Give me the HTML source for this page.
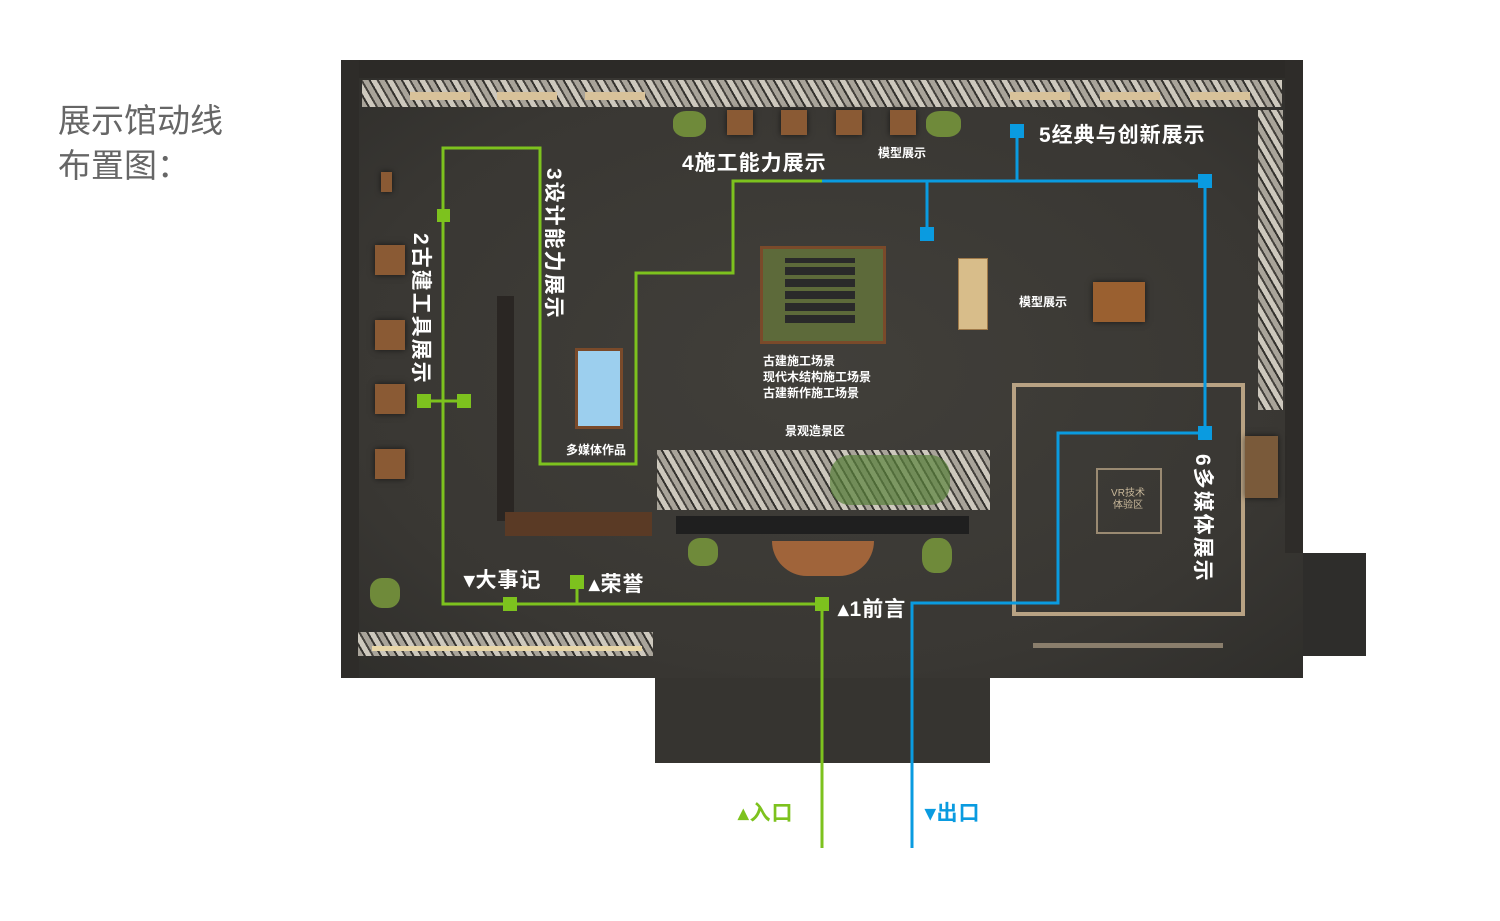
<!DOCTYPE html>
<html><head><meta charset="utf-8"><style>
html,body{margin:0;padding:0;background:#fff;}
body{width:1500px;height:921px;position:relative;overflow:hidden;font-family:"Liberation Sans","Noto Sans CJK SC",sans-serif;}
.a{position:absolute;}
.t{position:absolute;color:#fff;font-weight:bold;white-space:nowrap;}
.big{font-size:21px;letter-spacing:1px;}
.sm{font-size:12px;}
.v{transform-origin:0 0;transform:rotate(90deg);font-size:21px;letter-spacing:2px;}
.wood{position:absolute;background:#8a5a34;box-shadow:0 0 6px rgba(0,0,0,.6);}
.stone{position:absolute;background:repeating-linear-gradient(60deg,#a9a49a 0 5px,#34322e 5px 7px,#cdc8bd 7px 12px,#45423d 12px 14px);}
</style></head><body>
<div class="a" style="left:58px;top:98px;font-size:33px;color:#666;line-height:45px;">展示馆动线<br>布置图：</div>

<!-- floor -->
<div class="a" style="left:341px;top:60px;width:962px;height:618px;background:radial-gradient(ellipse at center,#413f3a 0%,#393733 70%,#2f2e2b 100%);"></div>
<div class="a" style="left:655px;top:678px;width:335px;height:85px;background:#363430;"></div>
<div class="a" style="left:1303px;top:553px;width:63px;height:103px;background:#2e2d2b;"></div>
<div class="a" style="left:341px;top:60px;width:962px;height:18px;background:#2c2a27;"></div>
<div class="a" style="left:341px;top:60px;width:18px;height:618px;background:#2e2c29;"></div>
<div class="a" style="left:1285px;top:60px;width:18px;height:493px;background:#2e2c29;"></div>
<div class="stone" style="left:362px;top:80px;width:920px;height:27px;"></div>
<div class="a" style="left:410px;top:92px;width:60px;height:8px;background:#d8c29a;"></div>
<div class="a" style="left:497px;top:92px;width:60px;height:8px;background:#d8c29a;"></div>
<div class="a" style="left:585px;top:92px;width:60px;height:8px;background:#d8c29a;"></div>
<div class="a" style="left:1010px;top:92px;width:60px;height:8px;background:#d8c29a;"></div>
<div class="a" style="left:1100px;top:92px;width:60px;height:8px;background:#d8c29a;"></div>
<div class="a" style="left:1190px;top:92px;width:60px;height:8px;background:#d8c29a;"></div>
<div class="stone" style="left:1258px;top:110px;width:25px;height:300px;"></div>
<div class="stone" style="left:358px;top:632px;width:295px;height:24px;"></div>
<div class="a" style="left:372px;top:646px;width:270px;height:5px;background:#e8d6a8;"></div>

<!-- wood boxes left -->
<div class="wood" style="left:381px;top:172px;width:11px;height:20px;"></div>
<div class="wood" style="left:375px;top:245px;width:30px;height:30px;"></div>
<div class="wood" style="left:375px;top:320px;width:30px;height:30px;"></div>
<div class="wood" style="left:375px;top:384px;width:30px;height:30px;"></div>
<div class="wood" style="left:375px;top:449px;width:30px;height:30px;"></div>
<div class="a" style="left:370px;top:578px;width:30px;height:30px;background:#6f8a3a;border-radius:40%;"></div>
<!-- vertical rack -->
<div class="a" style="left:497px;top:296px;width:17px;height:225px;background:#2a2623;"></div>
<div class="a" style="left:505px;top:512px;width:147px;height:24px;background:#5a3a25;"></div>
<!-- top showcases -->
<div class="a" style="left:673px;top:111px;width:33px;height:26px;background:#6f8a3a;border-radius:40%;"></div>
<div class="wood" style="left:727px;top:110px;width:26px;height:25px;"></div>
<div class="wood" style="left:781px;top:110px;width:26px;height:25px;"></div>
<div class="wood" style="left:836px;top:110px;width:26px;height:25px;"></div>
<div class="wood" style="left:890px;top:110px;width:26px;height:25px;"></div>
<div class="a" style="left:926px;top:111px;width:35px;height:26px;background:#6f8a3a;border-radius:40%;"></div>
<!-- model green -->
<div class="a" style="left:760px;top:246px;width:120px;height:92px;background:#5d6a3a;border:3px solid #7a4a2a;"></div>
<div class="a" style="left:785px;top:258px;width:70px;height:65px;background:repeating-linear-gradient(0deg,#2a2a2a 0 8px,#5d6a3a 8px 12px);"></div>
<!-- light blue -->
<div class="a" style="left:575px;top:348px;width:42px;height:75px;background:#9ccfee;border:3px solid #7a4a2a;"></div>
<!-- wood bench & model -->
<div class="a" style="left:958px;top:258px;width:28px;height:70px;background:#d8bd8a;border:1px solid #a07a4a;"></div>
<div class="wood" style="left:1093px;top:282px;width:52px;height:40px;background:#9a6030;"></div>
<!-- landscape stones -->
<div class="stone" style="left:657px;top:450px;width:333px;height:60px;"></div>
<div class="a" style="left:830px;top:455px;width:120px;height:50px;background:rgba(90,130,60,.7);border-radius:20px;"></div>
<div class="a" style="left:676px;top:516px;width:293px;height:18px;background:#1f1f1f;"></div>
<div class="a" style="left:772px;top:541px;width:102px;height:35px;background:#a0643a;border-radius:0 0 40px 40px;"></div>
<div class="a" style="left:688px;top:538px;width:30px;height:28px;background:#6f8a3a;border-radius:40%;"></div>
<div class="a" style="left:922px;top:538px;width:30px;height:35px;background:#6f8a3a;border-radius:40%;"></div>
<!-- gold frame -->
<div class="a" style="left:1012px;top:383px;width:225px;height:225px;border:4px solid #b8a283;"></div>
<div class="a" style="left:1096px;top:468px;width:62px;height:62px;border:2px solid #9a8a72;"></div>
<div class="a" style="left:1096px;top:488px;width:64px;text-align:center;color:#c8b89a;font-size:10px;line-height:12px;">VR技术<br>体验区</div>
<div class="wood" style="left:1245px;top:436px;width:33px;height:62px;background:#7a5a3a;"></div>
<div class="a" style="left:1033px;top:643px;width:190px;height:5px;background:#8a7e6c;"></div>

<svg class="a" style="left:0;top:0" width="1500" height="921">
<g stroke="#7dc21e" stroke-width="3" fill="none">
<polyline points="822,848 822,604 443,604 443,148 540,148 540,464 636,464 636,273 733,273 733,181 822,181"/>
<line x1="424" y1="401" x2="464" y2="401"/>
<line x1="577" y1="582" x2="577" y2="604"/>
</g>
<g fill="#7dc21e">
<rect x="437" y="209" width="13" height="13"/>
<rect x="417" y="394" width="14" height="14"/>
<rect x="457" y="394" width="14" height="14"/>
<rect x="503" y="597" width="14" height="14"/>
<rect x="570" y="575" width="14" height="14"/>
<rect x="815" y="597" width="14" height="14"/>
</g>
<g stroke="#0a9be0" stroke-width="3" fill="none">
<polyline points="822,181 1205,181 1205,433 1058,433 1058,603 912,603 912,848"/>
<line x1="1017" y1="131" x2="1017" y2="181"/>
<line x1="927" y1="181" x2="927" y2="234"/>
</g>
<g fill="#0a9be0">
<rect x="1010" y="124" width="14" height="14"/>
<rect x="920" y="227" width="14" height="14"/>
<rect x="1198" y="174" width="14" height="14"/>
<rect x="1198" y="426" width="14" height="14"/>
</g>
</svg>

<div class="t big" style="left:682px;top:147px;">4施工能力展示</div>
<div class="t big" style="left:1039px;top:119px;">5经典与创新展示</div>
<div class="t sm" style="left:878px;top:144px;">模型展示</div>
<div class="t sm" style="left:1019px;top:293px;">模型展示</div>
<div class="t sm" style="left:763px;top:353px;line-height:16px;">古建施工场景<br>现代木结构施工场景<br>古建新作施工场景</div>
<div class="t sm" style="left:785px;top:422px;">景观造景区</div>
<div class="t sm" style="left:566px;top:441px;">多媒体作品</div>
<div class="t v" style="left:437px;top:233px;">2古建工具展示</div>
<div class="t v" style="left:570px;top:168px;">3设计能力展示</div>
<div class="t v" style="left:1219px;top:454px;">6多媒体展示</div>
<div class="t big" style="left:464px;top:564px;">▾大事记</div>
<div class="t big" style="left:589px;top:568px;">▴荣誉</div>
<div class="t big" style="left:838px;top:593px;">▴1前言</div>
<div class="t big" style="left:738px;top:797px;color:#7dc21e;">▴入口</div>
<div class="t big" style="left:925px;top:797px;color:#0a9be0;">▾出口</div>
</body></html>
